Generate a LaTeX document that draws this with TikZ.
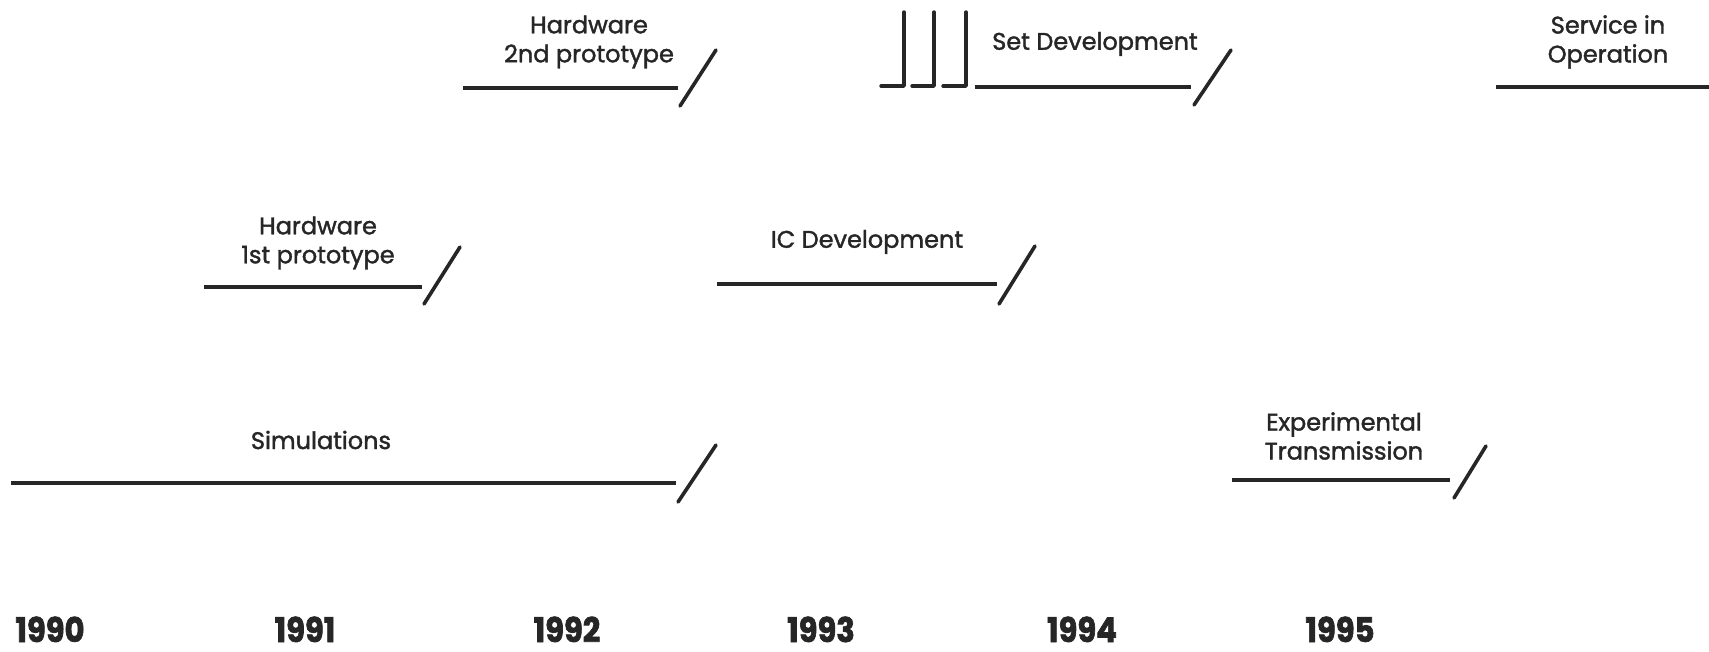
\documentclass[tikz,border=0pt]{standalone}
\usepackage{fontspec}
\setmainfont{Poppins}
\newfontfamily\labfont{Poppins}[FakeBold=1.6]
\newfontfamily\yrfont{Poppins}[FakeBold=2.2,BoldFont={* Bold}]
\usepackage{graphicx}
\definecolor{ink}{HTML}{262626}
\begin{document}
\begin{tikzpicture}[x=1pt,y=-1pt,
  bar/.style={draw=ink,line width=4.4pt},
  tick/.style={draw=ink,line width=3.6pt,line cap=round},
  peg/.style={draw=ink,line width=3.4pt,line cap=round,line join=round},
  lab/.style={text=ink,font=\labfont\fontsize{24}{29}\selectfont,align=center,inner sep=0pt},
  yr/.style={text=ink,font=\yrfont\fontsize{34}{34}\selectfont\bfseries,inner sep=0pt,anchor=base}]
\useasboundingbox (0,0) rectangle (1709,651);

% Simulations
\coordinate (simA) at (11,483); \coordinate (simB) at (676,483);
\coordinate (simS1) at (678,502); \coordinate (simS2) at (716,445);
\draw[bar] (simA) -- (simB);
\draw[tick] (simS1) -- (simS2);
\node[lab] (sim) at (321,440) {Simulations};

% Hardware 1st prototype
\coordinate (hw1A) at (204,287); \coordinate (hw1B) at (422,287);
\coordinate (hw1S1) at (424,304); \coordinate (hw1S2) at (460,247);
\draw[bar] (hw1A) -- (hw1B);
\draw[tick] (hw1S1) -- (hw1S2);
\node[lab] (hw1) at (318,243) {Hardware\\1st prototype};

% Hardware 2nd prototype
\coordinate (hw2A) at (463,88); \coordinate (hw2B) at (678,88);
\coordinate (hw2S1) at (680,106); \coordinate (hw2S2) at (716,50);
\draw[bar] (hw2A) -- (hw2B);
\draw[tick] (hw2S1) -- (hw2S2);
\node[lab] (hw2) at (589,42) {Hardware\\2nd prototype};

% IC Development
\coordinate (icA) at (717,284); \coordinate (icB) at (997,284);
\coordinate (icS1) at (999,304); \coordinate (icS2) at (1035,246);
\draw[bar] (icA) -- (icB);
\draw[tick] (icS1) -- (icS2);
\node[lab] (ic) at (867,242) {IC Development};

% Set Development with its three pegs
\foreach \px/\fx [count=\i] in {904/881,934/912,966/943}{
  \coordinate (pegTop\i) at (\px,12);
  \coordinate (pegFoot\i) at (\fx,86);
  \draw[peg] (pegTop\i) |- (pegFoot\i);
}
\coordinate (setA) at (975,87); \coordinate (setB) at (1191,87);
\coordinate (setS1) at (1194,105); \coordinate (setS2) at (1231,50);
\draw[bar] (setA) -- (setB);
\draw[tick] (setS1) -- (setS2);
\node[lab] (set) at (1095,44) {Set Development};

% Experimental Transmission
\coordinate (expA) at (1232,480); \coordinate (expB) at (1450,480);
\coordinate (expS1) at (1454,498); \coordinate (expS2) at (1486,446);
\draw[bar] (expA) -- (expB);
\draw[tick] (expS1) -- (expS2);
\node[lab] (exp) at (1344,436) {Experimental\\Transmission};

% Service in Operation
\coordinate (svcA) at (1496,87); \coordinate (svcB) at (1709,87);
\draw[bar] (svcA) -- (svcB);
\node[lab] (svc) at (1608,42) {Service in\\Operation};

% Year axis
\foreach \yx/\yy in {50/1990,305/1991,567/1992,821/1993,1082/1994,1340/1995}{
  \node[yr] (y\yy) at (\yx,642) {\scalebox{0.9}[1]{\yy}};
}
\end{tikzpicture}
\end{document}
